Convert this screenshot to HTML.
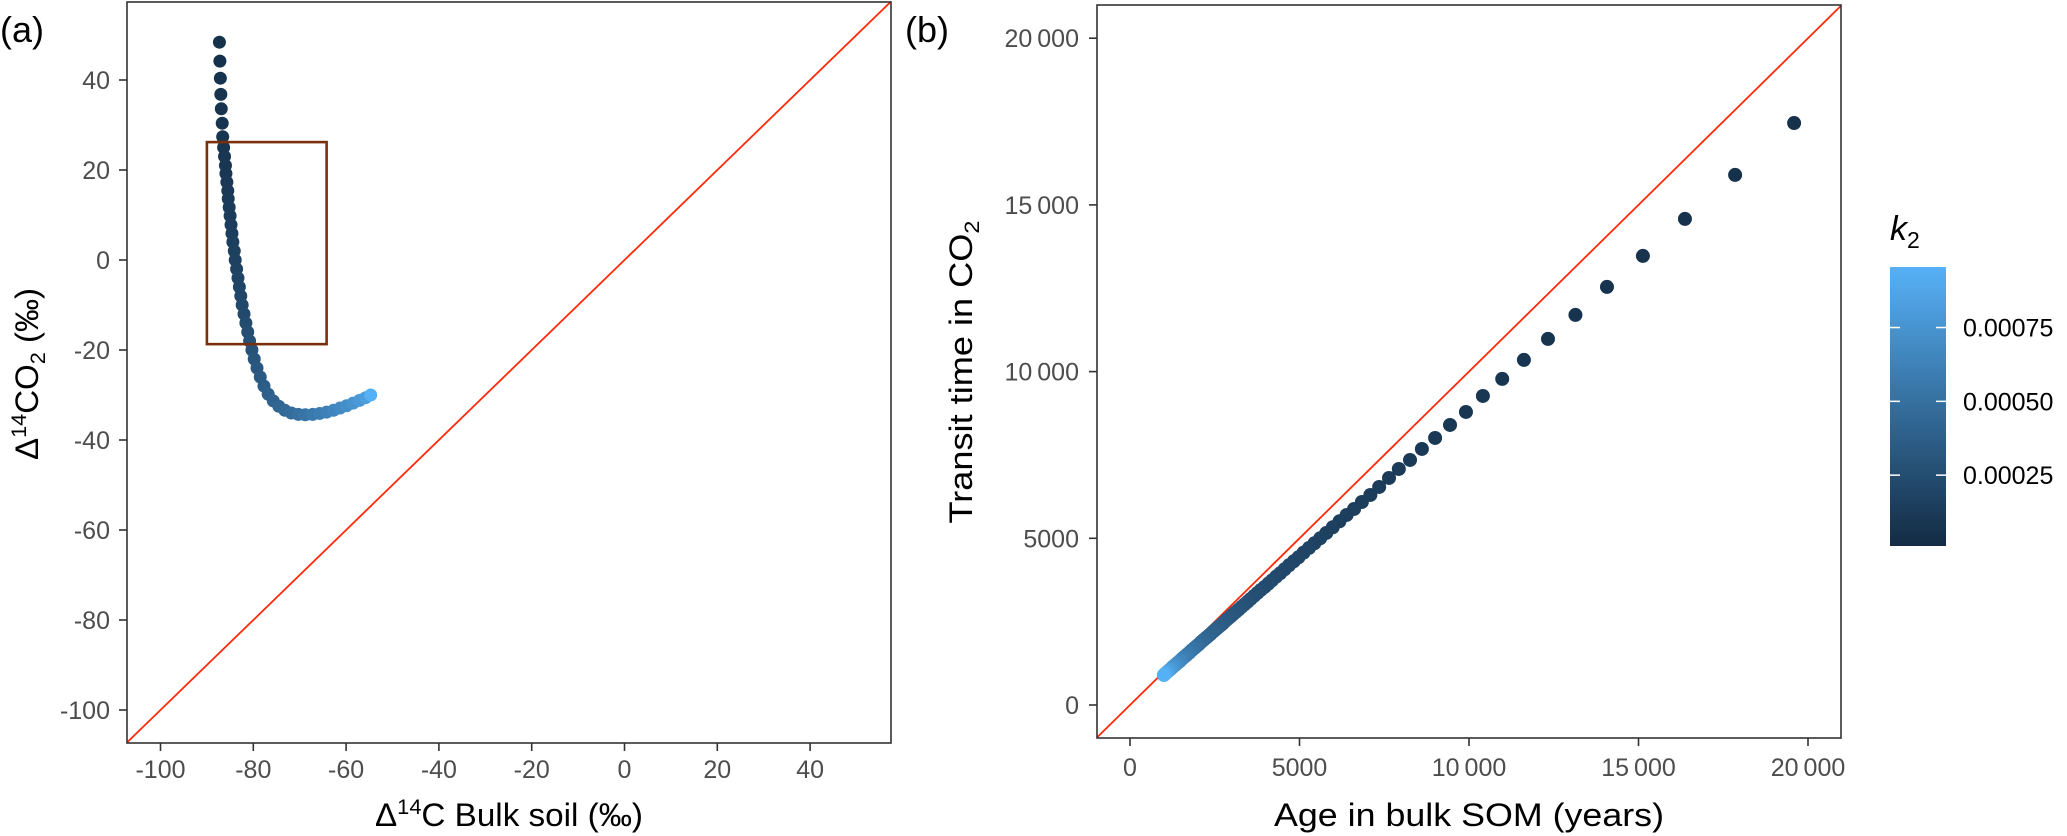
<!DOCTYPE html>
<html><head><meta charset="utf-8">
<style>
html,body{margin:0;padding:0;background:#fff;}
svg{display:block;font-family:"Liberation Sans",Arial,sans-serif;}
.tick{fill:#4d4d4d;font-size:25px;}
.ttl{fill:#000;font-size:32px;}
</style></head>
<body>
<svg id="chart" width="2067" height="836" viewBox="0 0 2067 836" xmlns="http://www.w3.org/2000/svg">
<text x="0" y="42" font-size="36">(a)</text>
<text x="905" y="42" font-size="36">(b)</text>
<g id="pa"></g>
<g id="pb"></g>
<g id="leg"></g>
</svg>
<script>
// ---- Panel (a) data ----
const bulkA = [-87.3,-87.2,-87.1,-87.0,-86.9,-86.7,-86.6,-86.4,-86.2,-86.0,-85.9,-85.7,-85.5,-85.4,-85.2,-85.0,-84.8,-84.6,-84.4,-84.1,-83.9,-83.6,-83.3,-83.0,-82.7,-82.4,-82.0,-81.6,-81.2,-80.8,-80.3,-79.8,-79.2,-78.5,-77.7,-76.8,-75.7,-74.5,-73.2,-71.8,-70.3,-68.8,-67.2,-65.7,-64.2,-62.7,-61.3,-59.9,-58.5,-57.1,-55.8,-54.7];
const co2A = [48.4,44.2,40.4,36.8,33.6,30.4,27.4,25,23,21,19.2,17.3,15.4,13.6,11.7,9.8,7.8,5.9,4,2,0,-2,-4,-6,-8,-10,-12,-14,-16,-18,-20,-22,-24,-26,-28,-29.8,-31.3,-32.5,-33.4,-34,-34.3,-34.4,-34.3,-34.1,-33.8,-33.4,-32.9,-32.4,-31.8,-31.2,-30.6,-30.0];
const k2A = [0.000049,0.000053,0.000058,0.000063,0.000068,0.000073,0.000078,0.000083,0.000088,0.000093,0.000098,0.000104,0.00011,0.000116,0.000122,0.000128,0.000135,0.000142,0.00015,0.000158,0.000166,0.000175,0.000185,0.000195,0.000206,0.000218,0.00023,0.000243,0.000257,0.000272,0.000288,0.000305,0.000323,0.000342,0.000362,0.000383,0.000405,0.000428,0.000452,0.000477,0.000503,0.00053,0.000558,0.000587,0.000617,0.000648,0.00068,0.000713,0.000747,0.000782,0.000818,0.00095];
const xTicksA = [-100,-80,-60,-40,-20,0,20,40];
const yTicksA = [40,20,0,-20,-40,-60,-80,-100];
const boxA = [-90,-64.2,26.2,-18.7];
// ---- Panel (b) data ----
const ageB = [19590,17850,16370,15130,14070,13140,12330,11620,10980,10410,9910,9440,9000,8610,8260,7930,7640,7350,7090,6840,6610,6390,6180,5980,5790,5610,5440,5280,5120,4970,4830,4690,4560,4430,4310,4190,4080,3970,3860,3760,3660,3560,3470,3380,3290,3200,3120,3040,2960,2880,2800,2730,2660,2590,2520,2450,2380,2310,2240,2170,2100,2030,1960,1890,1820,1750,1680,1610,1540,1470,1400,1330,1260,1190,1120,1050,1000];
const transitB = [17456,15900,14580,13470,12540,11700,10980,10350,9780,9270,8790,8400,8010,7680,7350,7080,6810,6540,6300,6090,5880,5700,5510,5330,5160,5000,4850,4710,4570,4430,4310,4190,4070,3950,3850,3740,3640,3540,3450,3360,3270,3180,3100,3020,2940,2860,2790,2720,2650,2580,2510,2440,2380,2320,2260,2200,2130,2070,2010,1950,1890,1820,1760,1700,1640,1570,1510,1450,1390,1320,1260,1200,1140,1070,1010,950,900];
const k2B = [0.000049,0.000053,0.000058,0.000063,0.000068,0.000072,0.000077,0.000082,0.000087,0.000091,0.000096,0.000101,0.000106,0.00011,0.000115,0.00012,0.000124,0.000129,0.000134,0.000139,0.000144,0.000149,0.000154,0.000159,0.000164,0.000169,0.000175,0.00018,0.000186,0.000191,0.000197,0.000203,0.000208,0.000214,0.00022,0.000227,0.000233,0.000239,0.000246,0.000253,0.00026,0.000267,0.000274,0.000281,0.000289,0.000297,0.000304,0.000313,0.000321,0.00033,0.000339,0.000348,0.000357,0.000367,0.000377,0.000388,0.000399,0.000411,0.000424,0.000438,0.000452,0.000468,0.000485,0.000503,0.000522,0.000543,0.000565,0.00059,0.000617,0.000646,0.000679,0.000714,0.000754,0.000798,0.000848,0.000905,0.00095];
const xTicksB = [0,5000,10000,15000,20000];
const yTicksB = [0,5000,10000,15000,20000];
const xTickLabB = ["0","5000","10\u2009000","15\u2009000","20\u2009000"];
const yTickLabB = ["0","5000","10\u2009000","15\u2009000","20\u2009000"];
// ---- Legend data ----
const legTicks = [0.00025,0.0005,0.00075];
const legLabels = ["0.00025","0.00050","0.00075"];
const k2Min = 0.00001, k2Max = 0.000955;

const NS="http://www.w3.org/2000/svg";
function mk(tag, attrs, parent){const e=document.createElementNS(NS,tag);for(const k in attrs)e.setAttribute(k,attrs[k]);parent.appendChild(e);return e;}
function lin(d0,d1,r0,r1){return v=>r0+(v-d0)*(r1-r0)/(d1-d0);}
const c0=[0x13,0x2B,0x43], c1=[0x56,0xB1,0xF7];
function col(k){let t=(k-k2Min)/(k2Max-k2Min);t=Math.max(0,Math.min(1,t));return 'rgb('+c0.map((c,i)=>Math.round(c+(c1[i]-c)*t)).join(',')+')';}

// Panel A
const pa=document.getElementById('pa');
const xA=lin(0,20,624.5,624.5+92.8), yA=lin(0,20,260,170);
const LA=127,RA=891,TA=2,BA=743;
let e;
const dLoA=-107.2, dHiA=57.4;
e=mk('line',{x1:xA(dLoA),y1:yA(dLoA),x2:xA(dHiA),y2:yA(dHiA),stroke:'#ff2a0a','stroke-width':1.8},pa);


for(let i=0;i<bulkA.length;i++){
  e=mk('circle',{cx:xA(bulkA[i]),cy:yA(co2A[i]),r:6.5,fill:col(k2A[i])},pa);
  
  
}
e=mk('rect',{x:xA(boxA[0]),y:yA(boxA[2]),width:xA(boxA[1])-xA(boxA[0]),height:yA(boxA[3])-yA(boxA[2]),fill:'none',stroke:'#7a300c','stroke-width':2.6},pa);


e=mk('rect',{x:LA,y:TA,width:RA-LA,height:BA-TA,fill:'none',stroke:'#333','stroke-width':1.6},pa);


xTicksA.forEach(v=>{
  mk('line',{x1:xA(v),y1:BA,x2:xA(v),y2:BA+8,stroke:'#333','stroke-width':1.6},pa);
  e=mk('text',{x:xA(v),y:778,'text-anchor':'middle',class:'tick'},pa);e.textContent=v;
  
  
});
yTicksA.forEach(v=>{
  mk('line',{x1:LA-8,y1:yA(v),x2:LA,y2:yA(v),stroke:'#333','stroke-width':1.6},pa);
  e=mk('text',{x:110,y:yA(v)+9,'text-anchor':'end',class:'tick'},pa);e.textContent=v;
  
  
});
e=mk('text',{x:509,y:826,'text-anchor':'middle',class:'ttl',textLength:268,lengthAdjust:'spacingAndGlyphs'},pa);
e.innerHTML='Δ<tspan font-size="21" dy="-12">14</tspan><tspan dy="12">C Bulk soil (‰)</tspan>';


e=mk('text',{x:0,y:0,'text-anchor':'middle',class:'ttl',textLength:172,lengthAdjust:'spacingAndGlyphs',transform:'translate(38,374) rotate(-90)'},pa);
e.innerHTML='Δ<tspan font-size="21" dy="-12">14</tspan><tspan dy="12">CO</tspan><tspan font-size="21" dy="7">2</tspan><tspan dy="-7"> (‰)</tspan>';



// Panel B
const pb=document.getElementById('pb');
const xB=lin(0,5000,1130,1299.5), yB=lin(0,5000,705,538.3);
const LB=1097,RB=1841,TB=5,BB=738;
const dLoB=-970, dHiB=20980;
e=mk('line',{x1:xB(dLoB),y1:yB(dLoB),x2:xB(dHiB),y2:yB(dHiB),stroke:'#ff2a0a','stroke-width':1.8},pb);


for(let i=0;i<ageB.length;i++){
  e=mk('circle',{cx:xB(ageB[i]),cy:yB(transitB[i]),r:7,fill:col(k2B[i])},pb);
  
  
}
e=mk('rect',{x:LB,y:TB,width:RB-LB,height:BB-TB,fill:'none',stroke:'#333','stroke-width':1.6},pb);


xTicksB.forEach((v,i)=>{
  mk('line',{x1:xB(v),y1:BB,x2:xB(v),y2:BB+8,stroke:'#333','stroke-width':1.6},pb);
  e=mk('text',{x:xB(v),y:776,'text-anchor':'middle',class:'tick'},pb);e.textContent=xTickLabB[i];
  
  
});
yTicksB.forEach((v,i)=>{
  mk('line',{x1:LB-8,y1:yB(v),x2:LB,y2:yB(v),stroke:'#333','stroke-width':1.6},pb);
  e=mk('text',{x:1079,y:yB(v)+9,'text-anchor':'end',class:'tick'},pb);e.textContent=yTickLabB[i];
  
  
});
e=mk('text',{x:1469,y:826,'text-anchor':'middle',class:'ttl',textLength:390,lengthAdjust:'spacingAndGlyphs'},pb);
e.textContent='Age in bulk SOM (years)';


e=mk('text',{x:0,y:0,'text-anchor':'middle',class:'ttl',textLength:303,lengthAdjust:'spacingAndGlyphs',transform:'translate(972,372) rotate(-90)'},pb);
e.innerHTML='Transit time in CO<tspan font-size="21" dy="7">2</tspan>';



// Legend
const leg=document.getElementById('leg');
const LX=1890,LW=56,LT=267,LBt=546;
const yL=lin(k2Min,k2Max,LBt,LT);
const defs=mk('defs',{},leg);
const g=mk('linearGradient',{id:'cb',x1:0,y1:1,x2:0,y2:0},defs);
mk('stop',{offset:0,'stop-color':'#132B43'},g);
mk('stop',{offset:1,'stop-color':'#56B1F7'},g);
e=mk('rect',{x:LX,y:LT,width:LW,height:LBt-LT,fill:'url(#cb)'},leg);


legTicks.forEach((v,i)=>{
  mk('line',{x1:LX,y1:yL(v),x2:LX+10,y2:yL(v),stroke:'#fff','stroke-width':1.5},leg);
  mk('line',{x1:LX+LW-10,y1:yL(v),x2:LX+LW,y2:yL(v),stroke:'#fff','stroke-width':1.5},leg);
  e=mk('text',{x:1963,y:yL(v)+9,'font-size':25,fill:'#000'},leg);e.textContent=legLabels[i];
  
  
});
e=mk('text',{x:1890,y:240,'font-size':34,'font-style':'italic'},leg);
e.innerHTML='k<tspan font-size="23" dy="8" font-style="normal">2</tspan>';


</script>
</body></html>
